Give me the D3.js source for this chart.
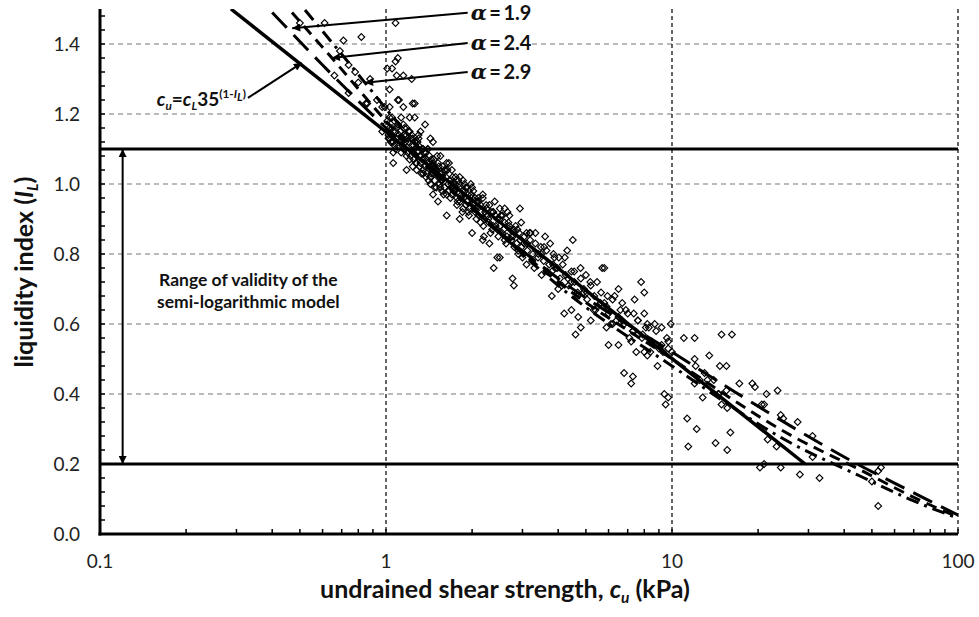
<!DOCTYPE html>
<html>
<head>
<meta charset="utf-8">
<script src="https://cdn.jsdelivr.net/npm/d3@7"></script>
<style>
  body { margin: 0; background: #fff; }
  text { font-family: Lato, "Open Sans", sans-serif; }
</style>
</head>
<body>
<svg id="chart" width="979" height="617"></svg>
<script>
// axis ticks
var xTicks = [0.1, 1, 10, 100];
var yTicks = [0, 0.2, 0.4, 0.6, 0.8, 1.0, 1.2, 1.4];
var validityLimits = [0.2, 1.1];

// c_u = c_L 35^(1-I_L), drawn between I_L = 1.5 and 0.2
var semiLogLine = [[0.287, 1.5], [29.2, 0.2]];

// alpha model curves, [c_u, I_L]
var alpha19 = [[0.40, 1.49], [0.6, 1.34], [1.0, 1.16], [2.0, 0.93], [4.0, 0.73], [10, 0.52], [16.6, 0.406], [26.3, 0.306], [41.9, 0.211], [66.8, 0.126], [100, 0.054]];
var alpha24 = [[0.469, 1.49], [0.647, 1.36], [1.0, 1.18], [2.0, 0.93], [4.0, 0.72], [10, 0.50], [26.3, 0.28], [45.6, 0.183], [67.9, 0.11], [100, 0.048]];
var alpha29 = [[0.521, 1.497], [0.845, 1.289], [1.0, 1.215], [2.0, 0.94], [4.0, 0.71], [10, 0.48], [26.3, 0.258], [45.6, 0.165], [67.9, 0.099], [100, 0.045]];

// measured points, [c_u (kPa), I_L]
var bandPoints = [
  [1.00,1.17],[1.02,1.14],[1.03,1.19],[1.05,1.16],[1.06,1.12],[1.07,1.18],[1.08,1.15],[1.09,1.13],[1.10,1.17],[1.11,1.11],
  [1.12,1.15],[1.13,1.19],[1.14,1.13],[1.15,1.10],[1.16,1.16],[1.17,1.12],[1.18,1.14],[1.19,1.09],[1.20,1.12],[1.21,1.15],
  [1.22,1.08],[1.23,1.11],[1.24,1.13],[1.25,1.07],[1.26,1.10],[1.27,1.12],[1.28,1.06],[1.29,1.09],[1.30,1.11],[1.31,1.05],
  [1.32,1.08],[1.34,1.10],[1.35,1.04],[1.36,1.07],[1.38,1.09],[1.39,1.03],[1.40,1.06],[1.42,1.08],[1.43,1.02],[1.45,1.05],
  [1.47,1.07],[1.48,1.01],[1.50,1.04],[1.52,1.06],[1.54,1.00],[1.56,1.03],[1.58,1.05],[1.60,0.99],[1.62,1.02],[1.64,1.04],
  [1.66,0.98],[1.68,1.01],[1.70,0.97],[1.72,1.00],[1.75,1.02],[1.77,0.96],[1.80,0.99],[1.82,0.95],[1.85,0.98],[1.88,1.00],
  [1.90,0.94],[1.93,0.97],[1.96,0.93],[1.99,0.96],[2.02,0.98],[2.05,0.92],[2.08,0.95],[2.11,0.91],[2.14,0.94],[2.18,0.96],
  [2.21,0.90],[2.25,0.93],[2.29,0.89],[2.33,0.92],[2.37,0.88],[2.41,0.91],[2.45,0.87],[2.50,0.90],[2.55,0.86],[2.60,0.89],
  [2.65,0.85],[2.70,0.88],[2.75,0.84],[2.80,0.87],[2.86,0.83],[2.92,0.86],[2.98,0.82],[3.05,0.85],[3.12,0.81],[3.19,0.84],
  [3.26,0.80],[3.33,0.83],[3.40,0.79],[3.48,0.82],[3.56,0.78],[3.64,0.81],[3.72,0.77],[3.80,0.75],[3.88,0.79],[3.97,0.76],
  [4.06,0.73],[4.15,0.77],[4.25,0.74],[4.35,0.71],[4.45,0.75],[4.56,0.72],[4.68,0.69],[4.80,0.73],[4.92,0.70],[5.05,0.67],
  [5.20,0.71],[5.35,0.68],[5.50,0.65],[5.65,0.69],[5.80,0.66],[6.00,0.63],[6.20,0.67],[6.40,0.61],[6.60,0.64],[6.80,0.60],
  [7.00,0.63],[7.30,0.58],[7.60,0.61],[7.90,0.57],[8.20,0.60],[8.50,0.55],[8.80,0.58],[9.20,0.54],[9.60,0.56],[10.0,0.52],
  [1.01,1.18],[1.04,1.12],[1.06,1.15],[1.08,1.10],[1.10,1.17],[1.12,1.12],[1.14,1.11],[1.16,1.14],[1.18,1.08],[1.20,1.15],
  [1.22,1.13],[1.24,1.09],[1.26,1.12],[1.28,1.04],[1.30,1.13],[1.32,1.06],[1.34,1.07],[1.36,1.09],[1.38,1.02],[1.40,1.10],
  [1.42,1.05],[1.44,1.03],[1.46,1.06],[1.48,0.99],[1.51,1.08],[1.54,1.03],[1.57,1.01],[1.60,1.04],[1.63,0.97],[1.66,1.06],
  [1.69,1.00],[1.72,0.98],[1.75,1.00],[1.78,0.95],[1.81,1.02],[1.84,0.97],[1.87,0.96],[1.90,0.99],[1.94,0.92],[1.98,1.00],
  [2.02,0.94],[2.06,0.93],[2.10,0.96],[2.14,0.89],[2.18,0.97],[2.22,0.92],[2.26,0.91],[2.30,0.94],[2.35,0.87],[2.40,0.95],
  [2.45,0.90],[2.50,0.88],[2.55,0.91],[2.60,0.84],[2.66,0.92],[2.72,0.87],[2.78,0.85],[2.84,0.88],[2.90,0.81],[2.97,0.89],
  [3.04,0.83],[3.11,0.83],[3.18,0.86],[3.25,0.78],[3.33,0.86],[3.41,0.80],[3.49,0.80],[3.57,0.82],[3.66,0.75],[3.75,0.83],
  [3.84,0.77],[3.93,0.76],[4.02,0.79],[4.12,0.71],[4.22,0.79],[4.33,0.73],[4.44,0.72],[4.55,0.75],[4.67,0.68],[4.79,0.76],
  [4.91,0.69],[5.04,0.69],[5.18,0.72],[5.32,0.64],[5.47,0.72],[5.62,0.66],[5.78,0.65],[5.95,0.68],[6.12,0.60],[6.30,0.68],
  [6.50,0.62],[6.70,0.61],[6.90,0.64],[7.10,0.56],[7.35,0.63],[7.60,0.57],[7.85,0.56],[8.10,0.59],[8.40,0.52],[8.70,0.60],
  [9.00,0.53],[9.30,0.52],[9.70,0.55],
  [1.03,1.13],[1.05,1.19],[1.07,1.11],[1.09,1.16],[1.11,1.14],[1.13,1.09],[1.15,1.17],[1.17,1.10],[1.19,1.13],[1.21,1.07],
  [1.23,1.14],[1.25,1.11],[1.27,1.06],[1.29,1.12],[1.31,1.08],[1.33,1.03],[1.35,1.10],[1.37,1.05],[1.39,1.07],[1.41,1.01],
  [1.44,1.07],[1.47,1.04],[1.50,0.99],[1.53,1.05],[1.56,1.01],[1.59,0.97],[1.62,1.04],[1.65,1.00],[1.68,0.96],[1.71,1.02],
  [1.74,0.98],[1.77,0.94],[1.80,1.00],[1.83,0.96],[1.86,0.93],[1.89,0.98],[1.92,0.95],[1.95,0.91],[1.99,0.97],[2.03,0.93],
  [2.07,0.90],[2.11,0.95],[2.15,0.92],[2.19,0.88],[2.24,0.94],[2.28,0.90],[2.32,0.86],[2.37,0.92],[2.42,0.88],[2.47,0.85],
  [2.52,0.91],[2.58,0.87],[2.63,0.83],[2.68,0.89],[2.74,0.85],[2.81,0.82],[2.88,0.87],[2.95,0.84],[3.02,0.80],[3.10,0.86]
];
var scatterPoints = [
  [0.50,1.46],[0.61,1.46],[1.08,1.46],[0.71,1.41],[0.82,1.42],[0.69,1.38],[0.74,1.34],[0.78,1.32],[0.80,1.29],[0.88,1.30],
  [0.66,1.31],[1.08,1.35],[1.10,1.36],[1.05,1.33],[1.01,1.33],[1.09,1.31],[1.15,1.31],[1.23,1.30],[1.03,1.27],[1.11,1.24],
  [1.15,1.22],[1.26,1.23],[1.26,1.19],[0.99,1.22],[1.37,1.17],[1.21,1.19],[1.18,1.16],[1.43,1.13],[1.46,1.12],[1.02,1.13],
  [0.97,1.15],[1.32,1.15],[0.74,1.26],[0.85,1.23],[0.93,1.24],[1.10,1.24],[1.24,1.23],[0.97,1.22],[0.86,1.23],[1.03,1.22],
  [1.05,1.12],[1.06,1.09],[1.06,1.06],[1.18,1.04],[1.24,1.05],[1.55,1.08],[1.63,1.06],[1.35,1.03],[1.46,1.03],[1.43,1.00],
  [1.55,0.99],[1.57,0.98],[1.46,0.97],[1.79,1.01],[1.86,1.01],[1.92,0.99],[2.00,0.99],[2.05,0.96],[2.08,0.95],[1.63,0.91],
  [1.81,0.90],[2.50,0.93],[2.60,0.93],[2.55,0.91],[2.70,0.91],[2.37,0.92],[2.94,0.93],[3.20,0.86],[3.60,0.85],[4.50,0.84],
  [2.20,0.85],[2.30,0.83],[2.50,0.79],[2.38,0.76],[3.00,0.79],[3.85,0.80],[4.30,0.81],[5.70,0.76],[2.77,0.73],[2.80,0.71],
  [3.80,0.68],[6.70,0.66],[7.40,0.67],[5.80,0.76],[7.80,0.72],[8.00,0.69],[8.00,0.63],[7.60,0.61],[5.90,0.65],[4.45,0.64],
  [4.20,0.63],[4.70,0.62],[5.20,0.61],[4.80,0.59],[4.60,0.57],[5.90,0.59],[6.00,0.54],[6.50,0.54],[7.30,0.58],[8.30,0.59],
  [9.20,0.59],[7.20,0.55],[7.50,0.52],[8.00,0.52],[8.20,0.51],[8.90,0.48],[9.70,0.53],[9.90,0.60],[6.80,0.46],[7.30,0.45],
  [7.20,0.43],[9.40,0.40],[9.70,0.39],[9.50,0.37],[11.3,0.33],[11.0,0.56],[12.0,0.56],[14.9,0.57],[16.2,0.57],[12.0,0.50],
  [13.5,0.51],[14.7,0.48],[15.5,0.48],[12.1,0.48],[13.0,0.46],[12.0,0.43],[12.5,0.44],[13.3,0.44],[14.0,0.44],[14.6,0.40],
  [15.5,0.41],[12.8,0.39],[14.5,0.40],[14.9,0.37],[15.6,0.36],[12.2,0.30],[11.4,0.25],[14.2,0.26],[15.6,0.24],[16.0,0.29],
  [17.2,0.43],[19.1,0.43],[19.5,0.42],[20.6,0.37],[21.0,0.37],[21.4,0.40],[23.4,0.41],[24.0,0.34],[24.5,0.33],[27.5,0.32],
  [31.0,0.28],[31.0,0.22],[23.2,0.25],[21.6,0.27],[20.3,0.19],[21.0,0.20],[24.0,0.19],[28.0,0.17],[32.8,0.16],[53.8,0.19],
  [52.6,0.18],[50.0,0.15],[52.6,0.08],[2.45,0.79],[2.18,0.84],[2.00,0.86],[1.70,1.04],[1.52,0.95],[1.40,1.10],[1.30,1.14],
  [3.50,0.74],[3.30,0.76],[4.00,0.70],[5.40,0.64],[6.20,0.60],[3.10,0.77],[2.90,0.80],[5.00,0.74],[6.50,0.70],[1.85,0.92]
];

var plotLeft = 100, plotRight = 958, plotTop = 9, plotBottom = 534;

var x = d3.scaleLog().domain([0.1, 100]).range([plotLeft, plotRight]);
var y = d3.scaleLinear().domain([0, 1.5]).range([plotBottom, plotTop]);

var svg = d3.select("#chart");

var defs = svg.append("defs");
defs.append("clipPath").attr("id", "plot")
  .append("rect").attr("x", plotLeft).attr("y", plotTop)
  .attr("width", plotRight - plotLeft).attr("height", plotBottom - plotTop);
defs.append("marker")
    .attr("id", "head")
    .attr("viewBox", "0 0 10 10")
    .attr("refX", 10).attr("refY", 5)
    .attr("markerWidth", 10).attr("markerHeight", 8)
    .attr("markerUnits", "userSpaceOnUse")
    .attr("orient", "auto-start-reverse")
  .append("path").attr("d", "M0,0 L10,5 L0,10 z").attr("fill", "#000");

// grid
svg.append("g").selectAll("line")
  .data(yTicks.filter(d => d > 0))
  .enter().append("line")
    .attr("x1", plotLeft).attr("x2", plotRight)
    .attr("y1", d => y(d)).attr("y2", d => y(d))
    .attr("stroke", "#777").attr("stroke-width", 1.2)
    .attr("stroke-dasharray", "5,4");

svg.append("g").selectAll("line")
  .data(xTicks.filter(d => d > 0.1))
  .enter().append("line")
    .attr("x1", d => x(d)).attr("x2", d => x(d))
    .attr("y1", plotTop).attr("y2", plotBottom)
    .attr("stroke", "#000").attr("stroke-width", 1.2)
    .attr("stroke-dasharray", "4,3");

// scatter
var diamond = "M0,-3.4L3.4,0L0,3.4L-3.4,0Z";
svg.append("g")
  .selectAll("path")
  .data(bandPoints.concat(scatterPoints))
  .enter().append("path")
    .attr("d", diamond)
    .attr("transform", d => "translate(" + x(d[0]) + "," + y(d[1]) + ")")
    .attr("fill", "none")
    .attr("stroke", "#000")
    .attr("stroke-width", 1.1);

// validity range limits
svg.append("g").selectAll("line")
  .data(validityLimits)
  .enter().append("line")
    .attr("x1", plotLeft).attr("x2", plotRight)
    .attr("y1", d => y(d)).attr("y2", d => y(d))
    .attr("stroke", "#000").attr("stroke-width", 3);

// model lines
var line = d3.line()
  .x(d => x(d[0]))
  .y(d => y(d[1]))
  .curve(d3.curveMonotoneX);

var models = svg.append("g").attr("clip-path", "url(#plot)").attr("fill", "none").attr("stroke", "#000");
models.append("path").datum(alpha29).attr("d", line).attr("stroke-width", 3).attr("stroke-dasharray", "13,6,3,6");
models.append("path").datum(alpha24).attr("d", line).attr("stroke-width", 3).attr("stroke-dasharray", "11,7");
models.append("path").datum(alpha19).attr("d", line).attr("stroke-width", 3).attr("stroke-dasharray", "21,10");
models.append("path").datum(semiLogLine).attr("d", line).attr("stroke-width", 3.5);

// axes
var yMinor = d3.range(0, 1.5, 0.04);
svg.append("g").selectAll("line")
  .data(yMinor)
  .enter().append("line")
    .attr("x1", plotLeft).attr("x2", plotLeft + 5)
    .attr("y1", d => y(d)).attr("y2", d => y(d))
    .attr("stroke", "#000").attr("stroke-width", 1.5);

var xMinor = [];
[0.1, 1, 10].forEach(function(base) {
  for (var k = 2; k <= 10; k++) xMinor.push(base * k);
});
svg.append("g").selectAll("line")
  .data(xMinor)
  .enter().append("line")
    .attr("x1", d => x(d)).attr("x2", d => x(d))
    .attr("y1", plotBottom).attr("y2", plotBottom - 5)
    .attr("stroke", "#000").attr("stroke-width", 1.5);

svg.append("line")
  .attr("x1", plotLeft).attr("x2", plotLeft).attr("y1", plotTop).attr("y2", plotBottom + 1.5)
  .attr("stroke", "#000").attr("stroke-width", 3);
svg.append("line")
  .attr("x1", plotLeft - 1.5).attr("x2", plotRight).attr("y1", plotBottom).attr("y2", plotBottom)
  .attr("stroke", "#000").attr("stroke-width", 3);

svg.append("g").selectAll("text")
  .data(yTicks)
  .enter().append("text")
    .attr("x", plotLeft - 20)
    .attr("y", d => y(d))
    .attr("dy", "0.35em")
    .attr("text-anchor", "end")
    .attr("font-size", 19)
    .attr("fill", "#222")
    .text(d => d3.format(".1f")(d));

svg.append("g").selectAll("text")
  .data(xTicks)
  .enter().append("text")
    .attr("x", d => x(d))
    .attr("y", plotBottom + 34)
    .attr("text-anchor", "middle")
    .attr("font-size", 19)
    .attr("fill", "#222")
    .text(d => String(d));

// rich text helper: parts = [text, italic, shift]
function rich(sel, parts, size) {
  var shift = 0;
  parts.forEach(function(p) {
    var target = p[2] || 0;
    var small = target !== 0;
    sel.append("tspan")
      .attr("dy", target - shift)
      .attr("font-style", p[1] ? "italic" : null)
      .attr("font-size", small ? size * 0.62 : size)
      .text(p[0]);
    shift = target;
  });
}

// axis titles
var xt = svg.append("text")
  .attr("x", 505)
  .attr("y", 598)
  .attr("text-anchor", "middle")
  .attr("font-weight", "bold")
  .attr("font-size", 25)
  .attr("fill", "#111");
rich(xt, [["undrained shear strength, "], ["c", true], ["u", true, 5], [" (kPa)", false, 0]], 25);

var yt = svg.append("text")
  .attr("transform", "translate(33,272) rotate(-90)")
  .attr("text-anchor", "middle")
  .attr("font-weight", "bold")
  .attr("font-size", 25)
  .attr("fill", "#111");
rich(yt, [["liquidity index ("], ["I", true], ["L", true, 5], [")", false, 0]], 25);

// validity range annotation
svg.append("line")
  .attr("x1", x(0.12)).attr("x2", x(0.12))
  .attr("y1", y(validityLimits[1])).attr("y2", y(validityLimits[0]))
  .attr("stroke", "#000").attr("stroke-width", 2)
  .attr("marker-start", "url(#head)").attr("marker-end", "url(#head)");

svg.append("g")
  .attr("font-weight", "bold").attr("font-size", 17.5).attr("text-anchor", "middle").attr("fill", "#111")
  .selectAll("text")
  .data(["Range of validity of the", "semi-logarithmic model"])
  .enter().append("text")
    .attr("x", x(0.33))
    .attr("y", (d, i) => y(0.708) + i * 22)
    .text(d => d);

// formula label
var formulaArrow = [[0.329, 1.246], [0.508, 1.346]];
svg.append("line")
  .attr("x1", x(formulaArrow[0][0])).attr("y1", y(formulaArrow[0][1]))
  .attr("x2", x(formulaArrow[1][0])).attr("y2", y(formulaArrow[1][1]))
  .attr("stroke", "#000").attr("stroke-width", 2)
  .attr("marker-end", "url(#head)");
var ft = svg.append("text")
  .attr("x", x(formulaArrow[0][0]) - 2)
  .attr("y", y(1.222))
  .attr("text-anchor", "end")
  .attr("font-weight", "bold")
  .attr("font-size", 19)
  .attr("fill", "#111");
rich(ft, [["c", true], ["u", true, 4], ["=", false, 0], ["c", true], ["L", true, 4], ["35", false, 0], ["(1-", false, -8], ["I", true, -8], ["L", true, -5], [")", false, -8]], 19);

// alpha labels
var alphaLabels = ["1.9", "2.4", "2.9"];
var alphaFrom = [[1.93, 1.489], [1.93, 1.403], [1.93, 1.32]];
var alphaTo = [[0.47, 1.445], [0.647, 1.36], [0.845, 1.289]];
alphaLabels.forEach(function(lbl, i) {
  svg.append("line")
    .attr("x1", x(alphaFrom[i][0])).attr("y1", y(alphaFrom[i][1]))
    .attr("x2", x(alphaTo[i][0])).attr("y2", y(alphaTo[i][1]))
    .attr("stroke", "#000").attr("stroke-width", 2)
    .attr("marker-end", "url(#head)");
  svg.append("rect")
    .attr("x", x(alphaFrom[i][0]) + 2).attr("y", y(alphaFrom[i][1]) - 11)
    .attr("width", 58).attr("height", 22).attr("fill", "#fff");
  var t = svg.append("text")
    .attr("x", x(alphaFrom[i][0]) + 3)
    .attr("y", y(alphaFrom[i][1]))
    .attr("dy", "0.35em")
    .attr("font-size", 20)
    .attr("font-weight", "bold")
    .attr("fill", "#111");
  t.append("tspan").attr("font-family", "DejaVu Serif").attr("font-style", "italic").attr("font-size", 21).text("\u03b1");
  t.append("tspan").text("\u2009=\u2009" + lbl);
});
</script>
</body>
</html>
